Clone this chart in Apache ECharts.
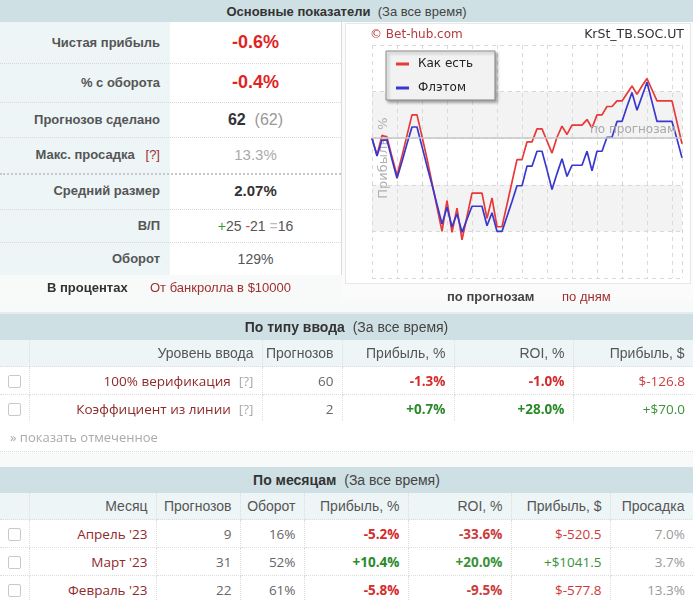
<!DOCTYPE html>
<html><head><meta charset="utf-8">
<script src="https://cdn.jsdelivr.net/npm/echarts@6/dist/echarts.min.js"></script>
<style>
html,body{margin:0;padding:0;}
body{width:693px;height:600px;position:relative;overflow:hidden;background:#f8f9f9;font-family:"Liberation Sans",Arial,sans-serif;}
.abs{position:absolute;}
.hdr{position:absolute;left:0;width:693px;background:#cfe0e4;text-align:center;color:#333;font-size:13px;}
.hdr b{color:#333;}
.hdr span{color:#444;font-weight:normal;}
.lab{position:absolute;left:0;width:170px;background:#edf5f7;text-align:right;box-sizing:border-box;padding-right:10px;font-weight:bold;font-size:13px;color:#555;}
.val{position:absolute;left:170px;width:171px;background:#fff;text-align:center;box-sizing:border-box;}
.sep{position:absolute;left:0;width:341px;border-top:1px dotted #d8d8d8;}
.red{color:#e02424;}
.brown{color:#a03030;}
table{border-collapse:collapse;table-layout:fixed;position:absolute;left:0;width:693px;}
td,th{padding:0 8px 0 0;text-align:right;white-space:nowrap;border-right:1px dotted #dcdcdc;border-bottom:1px dotted #dcdcdc;}
th{font-family:"Liberation Sans",sans-serif;font-weight:normal;font-size:14px;color:#555;background:#eef5f7;height:26px;}
td{font-family:"Open Sans",sans-serif;font-size:13.5px;color:#666;background:#fff;height:27px;}
td.nm{color:#8e2a2a;}
.qq{color:#aaa;margin-left:8px;}
td.neg{color:#d42b2b;font-weight:bold;}
td.pos{color:#2a8a2a;font-weight:bold;}
td.negs{color:#cc3b3b;}
td.poss{color:#389238;}
.cb{display:inline-block;width:11px;height:11px;border:1px solid #c9c9c9;border-radius:2px;background:#fff;vertical-align:middle;}
td.c{text-align:center;padding:0;}
.shdr{font-family:"Liberation Sans",sans-serif;font-size:14px;}
</style></head>
<body>
<div class="hdr" style="top:0;height:22px;line-height:23px;"><b>Основные показатели</b>&nbsp; <span>(За все время)</span></div>

<div id="left"></div>
<div class="abs" style="left:341px;top:22px;width:1px;height:253px;background:#dcdcdc;"></div>
<div class="abs" style="left:342px;top:22px;width:351px;height:278px;background:#fbfbfb;"></div>
<div id="chart" class="abs" style="left:345px;top:23px;width:346px;height:261px;background:#fff;border:1px solid #e8e8e8;box-sizing:border-box;"></div>

<div class="abs" style="left:0;top:275px;width:342px;height:25px;background:#f8f9f9;"></div>
<div class="abs" style="left:47px;top:280px;font-size:13px;font-weight:bold;color:#333;">В процентах</div>
<div class="abs brown" style="left:150px;top:280px;font-size:13px;">От банкролла в $10000</div>
<div class="abs" style="left:447px;top:289px;font-size:13px;font-weight:bold;color:#444;">по прогнозам</div>
<div class="abs brown" style="left:562px;top:289px;font-size:13px;">по дням</div>

<div class="abs" style="left:0;top:312px;width:693px;height:2px;background:#e3ecee;"></div>
<div class="hdr shdr" style="top:314px;height:26px;line-height:26px;"><b>По типу ввода</b>&nbsp; <span>(За все время)</span></div>
<table id="t1" style="top:340px;"></table>
<div class="abs" style="left:0;top:421px;width:693px;height:30px;background:#fff;border-bottom:1px dotted #dcdcdc;"></div>
<div class="abs" style="left:10px;top:428px;font-family:'Open Sans',sans-serif;font-size:13px;color:#aaa;">» показать отмеченное</div>

<div class="hdr shdr" style="top:467px;height:26px;line-height:26px;"><b>По месяцам</b>&nbsp; <span>(За все время)</span></div>
<table id="t2" style="top:493px;"></table>

<script>
// ---------- data ----------
const steps = ['0','1','2','3','4','5','6','7','8','9','10','11','12','13','14','15','16','17','18','19','20','21','22','23','24','25','26','27','28','29','30','31','32','33','34','35','36','37','38','39','40','41','42','43','44','45','46','47','48','49','50','51','52','53','54','55','56','57','58','59','60','61','62'];
const asIs = [0,-1.8,0.3,0.1,-2.0,-4.0,-1.9,0.3,2.5,2.5,0.2,-2.2,-4.8,-7.4,-10.0,-6.7,-10.1,-7.5,-10.9,-8.4,-5.9,-5.9,-5.9,-8.6,-6.4,-9.5,-9.5,-7.1,-4.7,-2.3,-2.3,-0.4,-0.4,1.0,1.0,-0.3,-1.6,0.1,1.3,0.4,1.4,1.4,1.4,2.0,1.1,2.5,2.5,3.4,3.4,4.0,4.0,4.8,5.6,4.7,5.6,6.4,5.2,4.0,4.0,4.0,4.0,1.7,-0.6];
const flat = [0,-1.9,-0.2,-0.2,-2.3,-4.3,-2.5,-0.6,1.2,1.2,-0.9,-3.0,-5.0,-7.1,-9.2,-7.4,-9.5,-8.1,-10.1,-8.7,-7.3,-7.3,-7.3,-9.4,-8.0,-10.0,-10.0,-8.4,-6.8,-5.1,-5.1,-3.0,-3.0,-1.4,-1.4,-3.4,-5.5,-3.8,-2.2,-4.1,-2.9,-2.9,-2.9,-1.4,-3.5,-1.4,-1.4,0.1,0.1,1.8,1.8,3.4,4.9,3.0,4.5,6.0,3.9,1.8,1.8,1.8,1.8,-0.1,-2.1];
const seriesNames = ['Как есть','Флэтом'];
const yTickLabels = [-15,-10,-5,0,5,10];
const yMin = -15, yMax = 10, yStep = 5, xStep = 5;

const statLabels = ['Чистая прибыль','% с оборота','Прогнозов сделано','Макс. просадка','Средний размер','В/П','Оборот'];
const statValues = ['-0.6%','-0.4%','62','13.3%','2.07%','+25 -21 =16','129%'];

const typeHead = ['Уровень ввода','Прогнозов','Прибыль, %','ROI, %','Прибыль, $'];
const typeNames = ['100% верификация','Коэффициент из линии'];
const typeCount = [60,2];
const typeProfitPct = ['-1.3%','+0.7%'];
const typeRoi = ['-1.0%','+28.0%'];
const typeProfitUsd = ['$-126.8','+$70.0'];

const monthHead = ['Месяц','Прогнозов','Оборот','Прибыль, %','ROI, %','Прибыль, $','Просадка'];
const months = ["Апрель '23","Март '23","Февраль '23"];
const monthCount = [9,31,22];
const monthTurn = ['16%','52%','61%'];
const monthProfitPct = ['-5.2%','+10.4%','-5.8%'];
const monthRoi = ['-33.6%','+20.0%','-9.5%'];
const monthProfitUsd = ['$-520.5','+$1041.5','$-577.8'];
const monthDraw = ['7.0%','3.7%','13.3%'];

// ---------- left stats panel ----------
const rows = [[22,41],[63,39],[102,35],[137,36],[173,36],[209,33],[242,33]];
const valHTML = [
 '<span class="red" style="font-weight:bold;font-size:18px;">'+statValues[0]+'</span>',
 '<span class="red" style="font-weight:bold;font-size:18px;">'+statValues[1]+'</span>',
 '<span style="font-weight:bold;font-size:16px;color:#333;">'+statValues[2]+'</span>&nbsp; <span style="font-size:16px;color:#999;">(62)</span>',
 '<span style="font-size:15px;color:#aaa;margin-left:0px;">'+statValues[3]+'</span><span class="brown" style="position:absolute;left:120px;top:-4px;font-size:11px;">что это?</span>',
 '<span style="font-weight:bold;font-size:15px;color:#333;">'+statValues[4]+'</span>',
 '<span style="font-size:14px;color:#555;"><span style="color:#3a9a3a;">+</span>25 <span style="color:#e04040;">-</span>21 <span style="color:#bbb;">=</span>16</span>',
 '<span style="font-size:14px;color:#555;">'+statValues[6]+'</span>'
];
let lh='';
rows.forEach((r,i)=>{
  const lbl = statLabels[i] + (i===3 ? ' &nbsp; <span class="brown" style="font-weight:normal;">[?]</span>' : '');
  lh += `<div class="lab" style="top:${r[0]}px;height:${r[1]}px;line-height:${r[1]}px;">${lbl}</div>`;
  lh += `<div class="val" style="top:${r[0]}px;height:${r[1]}px;line-height:${r[1]}px;"><span style="position:relative;">${valHTML[i]}</span></div>`;
  if(i>0) lh += `<div class="sep" style="top:${r[0]}px;${i===4?'border-top:2px dotted #c8c8c8;':''}"></div>`;
});
document.getElementById('left').innerHTML = lh;

// ---------- tables ----------
function cls(v){return v.startsWith('-')||v.startsWith('$-')?'neg':'pos';}
function clsS(v){return v.startsWith('-')||v.startsWith('$-')?'negs':'poss';}
let t1 = '<colgroup><col style="width:29px"><col style="width:233px"><col style="width:80px"><col style="width:112px"><col style="width:119px"><col style="width:120px"></colgroup>';
t1 += '<tr><th></th>'+typeHead.map(h=>'<th>'+h+'</th>').join('')+'</tr>';
typeNames.forEach((n,i)=>{
  t1 += `<tr><td class="c"><span class="cb"></span></td><td class="nm">${n}<span class="qq">[?]</span></td><td>${typeCount[i]}</td><td class="${cls(typeProfitPct[i])}">${typeProfitPct[i]}</td><td class="${cls(typeRoi[i])}">${typeRoi[i]}</td><td class="${clsS(typeProfitUsd[i])}" style="border-right:none">${typeProfitUsd[i]}</td></tr>`;
});
document.getElementById('t1').innerHTML = t1;

let t2 = '<colgroup><col style="width:29px"><col style="width:127px"><col style="width:84px"><col style="width:64px"><col style="width:104px"><col style="width:103px"><col style="width:99px"><col style="width:83px"></colgroup>';
t2 += '<tr><th></th>'+monthHead.map(h=>'<th>'+h+'</th>').join('')+'</tr>';
months.forEach((m,i)=>{
  t2 += `<tr><td class="c"><span class="cb"></span></td><td class="nm">${m}</td><td>${monthCount[i]}</td><td>${monthTurn[i]}</td><td class="${cls(monthProfitPct[i])}">${monthProfitPct[i]}</td><td class="${clsS(monthRoi[i])}" style="font-weight:bold">${monthRoi[i]}</td><td class="${clsS(monthProfitUsd[i])}">${monthProfitUsd[i]}</td><td style="color:#999;border-right:none">${monthDraw[i]}</td></tr>`;
});
document.getElementById('t2').innerHTML = t2;

// ---------- chart ----------
const chart = echarts.init(document.getElementById('chart'), null, {renderer:'canvas'});
const pairs = arr => arr.map((v,i)=>[Number(steps[i]), v]);
chart.setOption({
  animation:false,
  textStyle:{fontFamily:'DejaVu Sans'},
  graphic:[
    {type:'text', x:24, y:11, z:10,
     style:{text:'© Bet-hub.com', fill:'#b33a3a', font:'12px "DejaVu Sans"', align:'left', verticalAlign:'middle'}},
    {type:'text', x:338, y:11, z:10,
     style:{text:'KrSt_TB.SOC.UT', fill:'#333', font:'12.5px "DejaVu Sans"', align:'right', verticalAlign:'middle'}},
    {type:'text', x:38, y:134, rotation:Math.PI/2, z:1,
     style:{text:'Прибыль, %', fill:'#b0b0b0', font:'13px "DejaVu Sans"', align:'center', verticalAlign:'middle'}}
  ],
  legend:{
    orient:'vertical', left:40, top:27, width:93,
    backgroundColor:'#f2f2f2', borderColor:'#8a8a8a', borderWidth:1,
    shadowColor:'rgba(0,0,0,0.35)', shadowBlur:3, shadowOffsetX:2, shadowOffsetY:2,
    padding:[7,22,6,10], itemGap:12, itemWidth:13, itemHeight:3,
    textStyle:{fontSize:12, color:'#222', fontFamily:'DejaVu Sans', padding:[0,0,0,4]},
    data:[{name:seriesNames[0], icon:'rect'},{name:seriesNames[1], icon:'rect'}]
  },
  grid:{left:26, top:21, width:310, height:233, containLabel:false, outerBoundsMode:'none'},
  xAxis:{type:'value', min:0, max:62, interval:xStep,
    axisLabel:{show:false}, axisTick:{show:false}, axisLine:{show:false},
    splitLine:{show:true, lineStyle:{type:[4,4], color:'#d9d9d9', width:1}}},
  yAxis:{type:'value', min:yMin, max:yMax, interval:yStep,
    axisLabel:{show:false},
    axisLine:{show:false}, axisTick:{show:false},
    splitLine:{lineStyle:{type:[4,4], color:'#d9d9d9'}},
    splitArea:{show:true, areaStyle:{color:['rgba(255,255,255,0)','#f3f3f3']}}},
  series:[
    {name:'yTicks', type:'scatter', silent:true, clip:false, z:1,
     data:yTickLabels.map(v=>[0, v]), symbolSize:0, itemStyle:{opacity:0},
     label:{show:true, position:'left', distance:6, color:'#999', fontSize:12, fontFamily:'DejaVu Sans',
       formatter:p=>String(p.value[1])},
     labelLayout:{hideOverlap:false}},
    {name:seriesNames[0], type:'line', data:pairs(asIs), showSymbol:false, symbol:'none',
     lineStyle:{color:'#e83838', width:1.7}, itemStyle:{color:'#e83838'}, z:3,
     markLine:{silent:true, symbol:['none','none'], data:[{yAxis:0}],
       lineStyle:{color:'#c6c6c6', type:'solid', width:1.5},
       label:{position:'insideEndTop', formatter:'по прогнозам', color:'#a8a8a8', fontSize:12, fontFamily:'DejaVu Sans', distance:[6,2]}}},
    {name:seriesNames[1], type:'line', data:pairs(flat), showSymbol:false, symbol:'none',
     lineStyle:{color:'#3838d0', width:1.7}, itemStyle:{color:'#3838d0'}, z:4}
  ]
});
</script>
</body></html>
